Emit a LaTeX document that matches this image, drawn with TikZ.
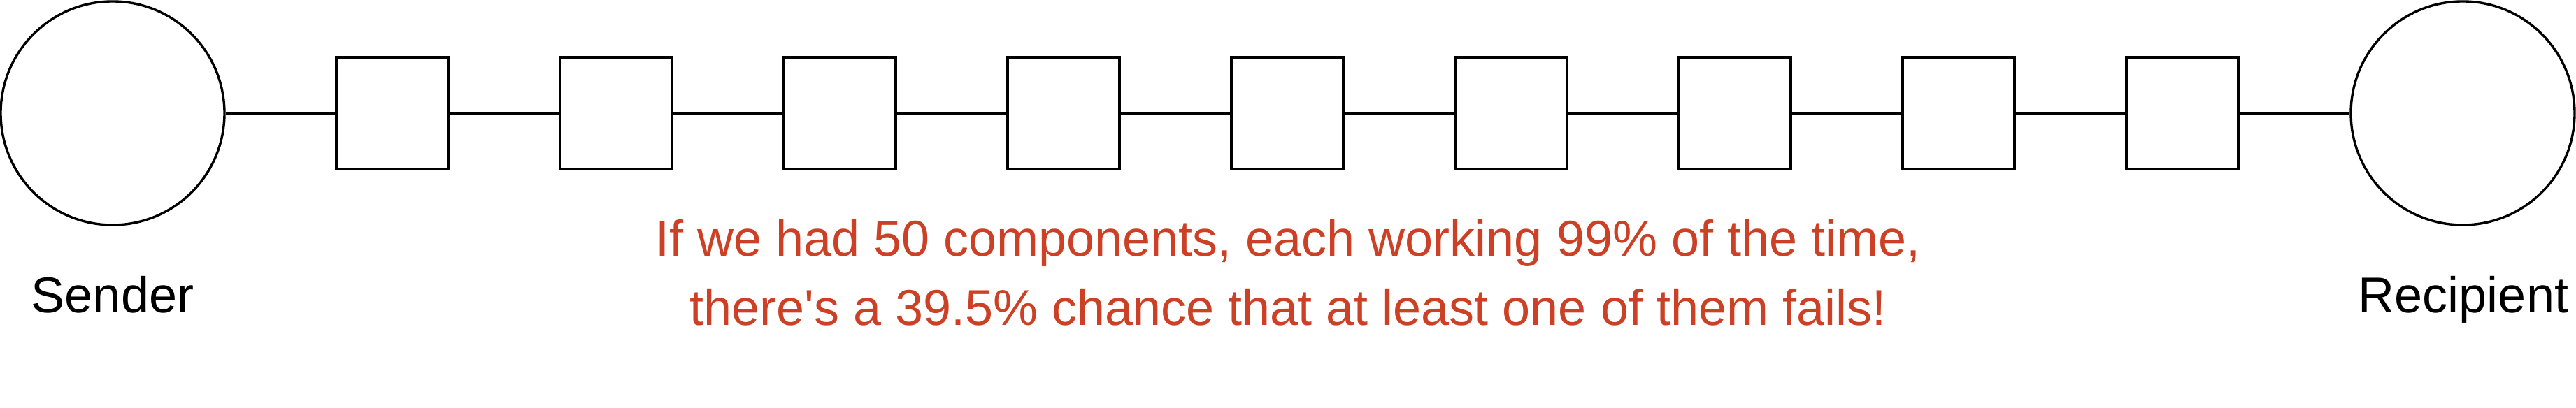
\documentclass[tikz,border=0pt]{standalone}
\usepackage{fontspec}
\setmainfont{Liberation Sans}[Ligatures=TeXOff]
\definecolor{noteRed}{HTML}{CC4125}
\begin{document}
\begin{tikzpicture}[x=1pt, y=-1pt, line width=0.85pt, every node/.style={font=\fontsize{18}{24.75}\selectfont}]
  \useasboundingbox (0,0) rectangle (921,146);
  \node[circle,draw,minimum size=80pt,inner sep=0] (sender) at (40.25,40.5) {};
  \node[circle,draw,minimum size=80pt,inner sep=0] (recipient) at (880.5,40.5) {};
  \foreach \i in {1,...,9}
    \node[draw,minimum size=40pt,inner sep=0] (comp\i) at ({140.25+80*(\i-1)},40.5) {};
  \draw (sender) -- (comp1);
  \foreach \a [count=\b from 2] in {1,...,8}
    \draw (comp\a) -- (comp\b);
  \draw (comp9) -- (recipient);
  \node[anchor=base] (senderlabel) at (40.25,112) {Sender};
  \node[anchor=base] (recipientlabel) at (880.75,112) {Recipient};
  \node[text=noteRed,align=center,inner sep=0] (note) at (460.5,97.5) {If we had 50 components, each working 99\% of the time,\\there's a 39.5\% chance that at least one of them fails!};
\end{tikzpicture}
\end{document}
